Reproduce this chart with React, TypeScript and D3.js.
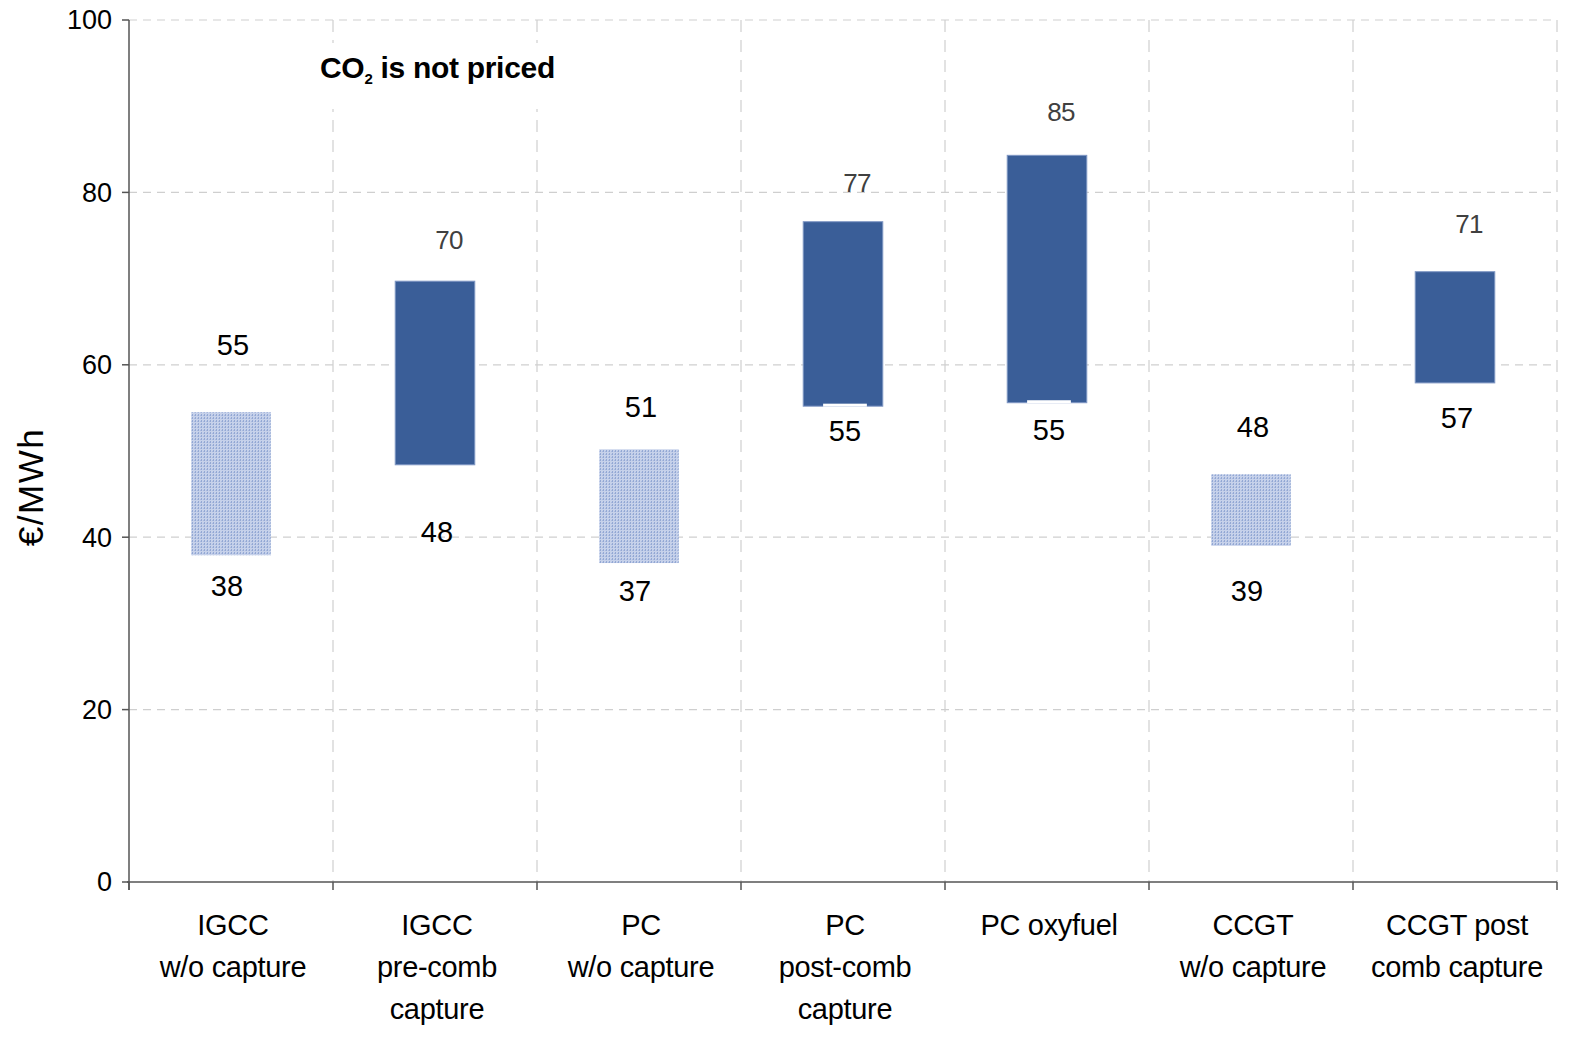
import React, { useEffect } from "react";
import * as d3 from "d3";

const categories: string[][] = [
  ["IGCC", "w/o capture"],
  ["IGCC", "pre-comb", "capture"],
  ["PC", "w/o capture"],
  ["PC", "post-comb", "capture"],
  ["PC oxyfuel"],
  ["CCGT", "w/o capture"],
  ["CCGT post", "comb capture"],
];
const lowValues = [37.9, 48.4, 37.0, 55.2, 55.6, 39.0, 57.9];
const highValues = [54.5, 69.7, 50.2, 76.6, 84.3, 47.3, 70.8];
const lowLabels = ["38", "48", "37", "55", "55", "39", "57"];
const highLabels = ["55", "70", "51", "77", "85", "48", "71"];
// where (in €/MWh) the value labels sit
const highLabelAt = [62.3, 74.5, 55.1, 81.1, 89.3, 52.8, 76.3];
const lowLabelAt = [34.3, 40.6, 33.8, 52.3, 52.4, 33.8, 53.9];
const withCapture = [false, true, false, true, true, false, true];
const notched = [false, false, false, true, true, false, false];
const yTicks = [0, 20, 40, 60, 80, 100];

const W = 1588;
const H = 1040;
const left = 129;
const right = 1557;
const top = 20;
const bottom = 882;
const FONT = "'Liberation Sans', Arial, sans-serif";

export default function App() {
  useEffect(() => {
    document.body.style.margin = "0";
    document.body.style.overflow = "hidden";
  }, []);

  const x = d3
    .scaleBand<number>()
    .domain(categories.map((_, i) => i))
    .range([left, right])
    .padding(0);
  const y = d3.scaleLinear().domain([0, 100]).range([bottom, top]);
  const bw = x.bandwidth() * 0.39;
  const boundaries = d3.range(categories.length + 1).map((i) => left + i * x.bandwidth());

  return (
    <svg
      width={W}
      height={H}
      style={{ position: "fixed", left: 0, top: 0, display: "block", background: "#fff" }}
      fontFamily={FONT}
    >
      <defs>
        <pattern id="dots" width="3" height="3" patternUnits="userSpaceOnUse">
          <rect width="3" height="3" fill="#C6D1EA" />
          <rect x="0" y="0" width="1" height="2" fill="#93A8D4" />
          <rect x="2" y="1" width="1" height="1" fill="#AABADF" />
        </pattern>
      </defs>

      {/* horizontal gridlines */}
      {yTicks.filter((t) => t > 0).map((t) => (
        <line
          key={"h" + t}
          x1={left}
          x2={right}
          y1={y(t)}
          y2={y(t)}
          stroke="#CFCFCF"
          strokeWidth={1.2}
          strokeDasharray="8,6"
        />
      ))}
      {/* vertical gridlines */}
      {boundaries.slice(1).map((bx, i) => (
        <line
          key={"v" + i}
          x1={bx}
          x2={bx}
          y1={top}
          y2={bottom}
          stroke="#CFCFCF"
          strokeWidth={1.2}
          strokeDasharray="12,8"
        />
      ))}

      {/* title box */}
      <rect x={140} y={43} width={460} height={66} fill="#fff" />
      <text x={320} y={78} fontSize={30} fontWeight="bold" fill="#000" letterSpacing={-0.3}>
        CO
        <tspan fontSize={15} dy={6}>2</tspan>
        <tspan dy={-6}> is not priced</tspan>
      </text>

      {/* bars */}
      {categories.map((_, i) => {
        const cx = (x(i) as number) + x.bandwidth() / 2;
        const y0 = y(highValues[i]);
        const y1 = y(lowValues[i]);
        return (
          <g key={"b" + i}>
            <rect
              x={cx - bw / 2}
              y={y0}
              width={bw}
              height={y1 - y0}
              fill={withCapture[i] ? "#3A5E98" : "url(#dots)"}
              stroke={withCapture[i] ? "#7F97C4" : "none"}
              strokeWidth={1}
            />
            {notched[i] && (
              <rect x={cx - bw * 0.25} y={y1 - 2.5} width={bw * 0.55} height={3} fill="#fff" />
            )}
          </g>
        );
      })}

      {/* value labels */}
      {categories.map((_, i) => {
        const cx = (x(i) as number) + x.bandwidth() / 2;
        const cap = withCapture[i];
        return (
          <g key={"l" + i}>
            <text
              x={cx + (cap ? 14 : 2)}
              y={y(highLabelAt[i])}
              dy="0.35em"
              textAnchor="middle"
              fontSize={cap ? 26 : 29}
              fill={cap ? "#404040" : "#000"}
              letterSpacing={cap ? -0.8 : 0}
            >
              {highLabels[i]}
            </text>
            <text
              x={cx + (cap ? 2 : -4)}
              y={y(lowLabelAt[i])}
              dy="0.35em"
              textAnchor="middle"
              fontSize={29}
              fill="#000"
            >
              {lowLabels[i]}
            </text>
          </g>
        );
      })}

      {/* axes */}
      <line x1={left} x2={left} y1={top} y2={bottom + 8} stroke="#555" strokeWidth={1.5} />
      {yTicks.map((t) => (
        <g key={"yt" + t}>
          <line x1={left - 7} x2={left} y1={y(t)} y2={y(t)} stroke="#555" strokeWidth={1.5} />
          <text
            x={left - 17}
            y={y(t)}
            dy="0.35em"
            textAnchor="end"
            fontSize={27}
            fill="#000"
          >
            {t}
          </text>
        </g>
      ))}
      <line x1={left - 2} x2={right} y1={bottom} y2={bottom} stroke="#555" strokeWidth={1.5} />
      {boundaries.map((bx, i) => (
        <line key={"xt" + i} x1={bx} x2={bx} y1={bottom} y2={bottom + 8} stroke="#555" strokeWidth={1.5} />
      ))}

      {/* category labels */}
      {categories.map((lines, i) => {
        const cx = (x(i) as number) + x.bandwidth() / 2;
        return (
          <text key={"c" + i} textAnchor="middle" fontSize={29} fill="#000" letterSpacing={-0.3}>
            {lines.map((ln, j) => (
              <tspan key={j} x={cx + 2} y={935 + j * 42}>
                {ln}
              </tspan>
            ))}
          </text>
        );
      })}

      {/* y axis title */}
      <text
        transform={`translate(43,${487}) rotate(-90)`}
        textAnchor="middle"
        fontSize={35}
        letterSpacing={1.5}
        fill="#000"
      >
        €/MWh
      </text>
    </svg>
  );
}
